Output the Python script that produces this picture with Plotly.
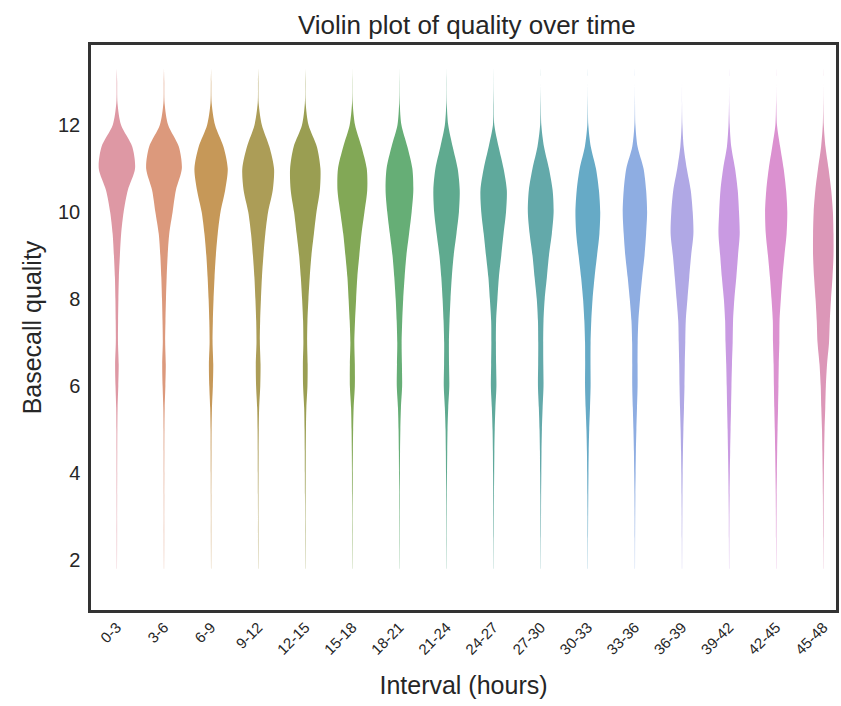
import plotly.graph_objects as go

# ---- data ----
intervals = ["0-3", "3-6", "6-9", "9-12", "12-15", "15-18", "18-21", "21-24",
             "24-27", "27-30", "30-33", "33-36", "36-39", "39-42", "42-45", "45-48"]

# quality levels at which the violin outline (density) was read
quality_levels = [1.8, 2.5, 3.0, 3.5, 4.0, 4.5, 5.0, 5.5, 6.0, 6.5, 7.0, 7.5,
                  8.0, 8.5, 9.0, 9.5, 10.0, 10.5, 11.0, 11.5, 12.0, 12.5, 13.0, 13.3]

# relative density (violin half-width) per interval at each quality level
d_0_3   = [0.1,0.2,0.2,0.25,0.3,0.35,0.45,0.7,1.4,1.8,1.1,1.2,1.5,2.0,3.0,4.3,6.8,11.0,18.3,15.5,4.2,0.6,0.25,0]
d_3_6   = [0.1,0.2,0.2,0.25,0.3,0.35,0.45,0.7,1.4,1.8,1.2,1.5,2.0,2.7,3.7,5.3,8.7,12.0,18.0,15.0,4.2,0.6,0.25,0]
d_6_9   = [0.1,0.2,0.2,0.25,0.3,0.4,0.5,0.9,1.8,2.2,1.5,1.8,2.5,3.5,4.8,6.7,9.5,14.2,16.8,12.5,4.0,0.6,0.2,0]
d_9_12  = [0.1,0.2,0.2,0.25,0.35,0.45,0.6,1.0,2.1,2.4,1.7,2.0,2.8,3.8,5.3,7.2,10.0,14.7,16.0,11.3,3.7,0.5,0.2,0]
d_12_15 = [0.1,0.2,0.2,0.3,0.4,0.5,0.7,1.1,2.2,2.4,1.9,2.2,3.2,4.5,6.2,8.7,11.3,14.7,15.3,11.7,3.3,0.4,0.15,0]
d_15_18 = [0.1,0.2,0.2,0.3,0.4,0.55,0.8,1.3,2.5,2.5,2.0,2.7,3.8,5.0,7.0,9.2,12.2,15.0,14.5,9.2,2.7,0.35,0.1,0]
d_18_21 = [0.1,0.2,0.25,0.3,0.45,0.6,0.9,1.5,2.7,2.5,2.2,2.8,3.8,5.2,7.0,9.7,12.3,14.0,13.0,8.0,2.0,0.3,0.1,0]
d_21_24 = [0.1,0.2,0.25,0.35,0.5,0.7,1.0,1.7,2.8,2.5,2.4,3.0,4.0,5.3,7.2,10.0,12.5,13.3,11.2,6.2,1.7,0.25,0.1,0]
d_24_27 = [0.1,0.2,0.3,0.4,0.55,0.75,1.1,1.8,2.8,2.5,2.3,2.5,3.8,5.3,7.7,10.0,12.5,13.3,10.0,5.0,0.7,0.2,0.05,0]
d_27_30 = [0.1,0.2,0.3,0.4,0.6,0.8,1.2,1.9,2.8,2.6,2.5,2.8,4.0,6.2,8.3,11.2,13.0,12.0,8.3,3.3,0.6,0.15,0,0]
d_30_33 = [0.1,0.2,0.3,0.45,0.65,0.9,1.4,2.2,2.8,2.7,2.8,3.5,4.8,6.8,9.3,11.7,12.5,11.2,8.2,3.0,0.5,0.1,0,0]
d_33_36 = [0.1,0.2,0.3,0.45,0.7,1.0,1.5,2.1,2.7,2.7,2.8,3.5,5.2,7.3,9.7,11.3,12.3,11.3,8.7,2.7,0.5,0.1,0,0]
d_36_39 = [0.1,0.2,0.3,0.45,0.65,0.95,1.4,2.0,2.5,2.8,3.3,3.8,5.5,7.3,9.2,11.5,10.8,8.8,4.8,1.7,0.4,0.05,0,0]
d_39_42 = [0.1,0.2,0.3,0.5,0.75,1.1,1.5,2.0,2.4,2.9,3.6,4.0,5.3,7.3,9.0,10.7,10.0,8.7,6.0,2.2,0.6,0.1,0,0]
d_42_45 = [0.1,0.2,0.3,0.45,0.7,1.0,1.4,1.9,2.3,2.6,3.2,3.4,4.7,6.3,8.3,10.5,11.2,10.0,7.5,4.0,0.8,0.15,0,0]
d_45_48 = [0.1,0.2,0.3,0.4,0.6,0.9,1.3,2.0,2.6,3.8,5.8,6.6,7.8,9.3,10.3,10.3,9.7,8.0,5.3,2.2,0.5,0.1,0,0]

densities = [d_0_3, d_3_6, d_6_9, d_9_12, d_12_15, d_15_18, d_18_21, d_21_24,
             d_24_27, d_27_30, d_30_33, d_33_36, d_36_39, d_39_42, d_42_45, d_45_48]

colors = ["#DE98A4", "#DC997C", "#C69858", "#AC9D57", "#9A9E52", "#82A856",
          "#66AE76", "#5FAA8F", "#5FA99C", "#63A9AA", "#66AAC6", "#8EADE2",
          "#B0A8E5", "#C99AE2", "#DB91D0", "#DC97B8"]

y_ticks = [2, 4, 6, 8, 10, 12]

# ---- figure ----
max_half_width = 0.4
dmax = 19.0

fig = go.Figure()
for i, (name, dens, col) in enumerate(zip(intervals, densities, colors)):
    hw = [d * max_half_width / dmax for d in dens]
    xs = [i + w for w in hw] + [i - w for w in reversed(hw)]
    ys = list(quality_levels) + list(reversed(quality_levels))
    fig.add_trace(go.Scatter(
        x=xs, y=ys, mode="lines", fill="toself", fillcolor=col,
        line=dict(width=0, color=col, shape="spline", smoothing=0.8),
        name=name, showlegend=False, hoverinfo="skip"))

font_family = "Liberation Sans, Arial, sans-serif"
fig.update_layout(
    width=841, height=706,
    margin=dict(l=91, r=2, t=45, b=96),
    paper_bgcolor="white", plot_bgcolor="white",
    font=dict(family=font_family, color="#262626"),
    title=dict(text="Violin plot of quality over time", x=0.555, xanchor="center",
               y=0.965, yanchor="middle", font=dict(size=26, color="#262626")),
    showlegend=False,
)
fig.update_xaxes(
    range=[-0.55, 15.27], tickmode="array",
    tickvals=list(range(len(intervals))), ticktext=intervals,
    tickangle=-45, tickfont=dict(size=15, color="#262626"),
    showgrid=False, zeroline=False, showline=True, mirror=True,
    linecolor="#333333", linewidth=2.5, ticks="", ticklabelstandoff=0,
    title=dict(text="Interval (hours)", font=dict(size=25, color="#262626"), standoff=20),
)
fig.update_yaxes(
    range=[0.85, 13.84], tickmode="array", tickvals=y_ticks,
    ticktext=[str(v) for v in y_ticks],
    tickfont=dict(size=20, color="#262626"),
    showgrid=False, zeroline=False, showline=True, mirror=True,
    linecolor="#333333", linewidth=2.5, ticks="", ticklabelstandoff=4,
    title=dict(text="Basecall quality", font=dict(size=25, color="#262626"), standoff=10),
)

fig.write_html("out.html")
